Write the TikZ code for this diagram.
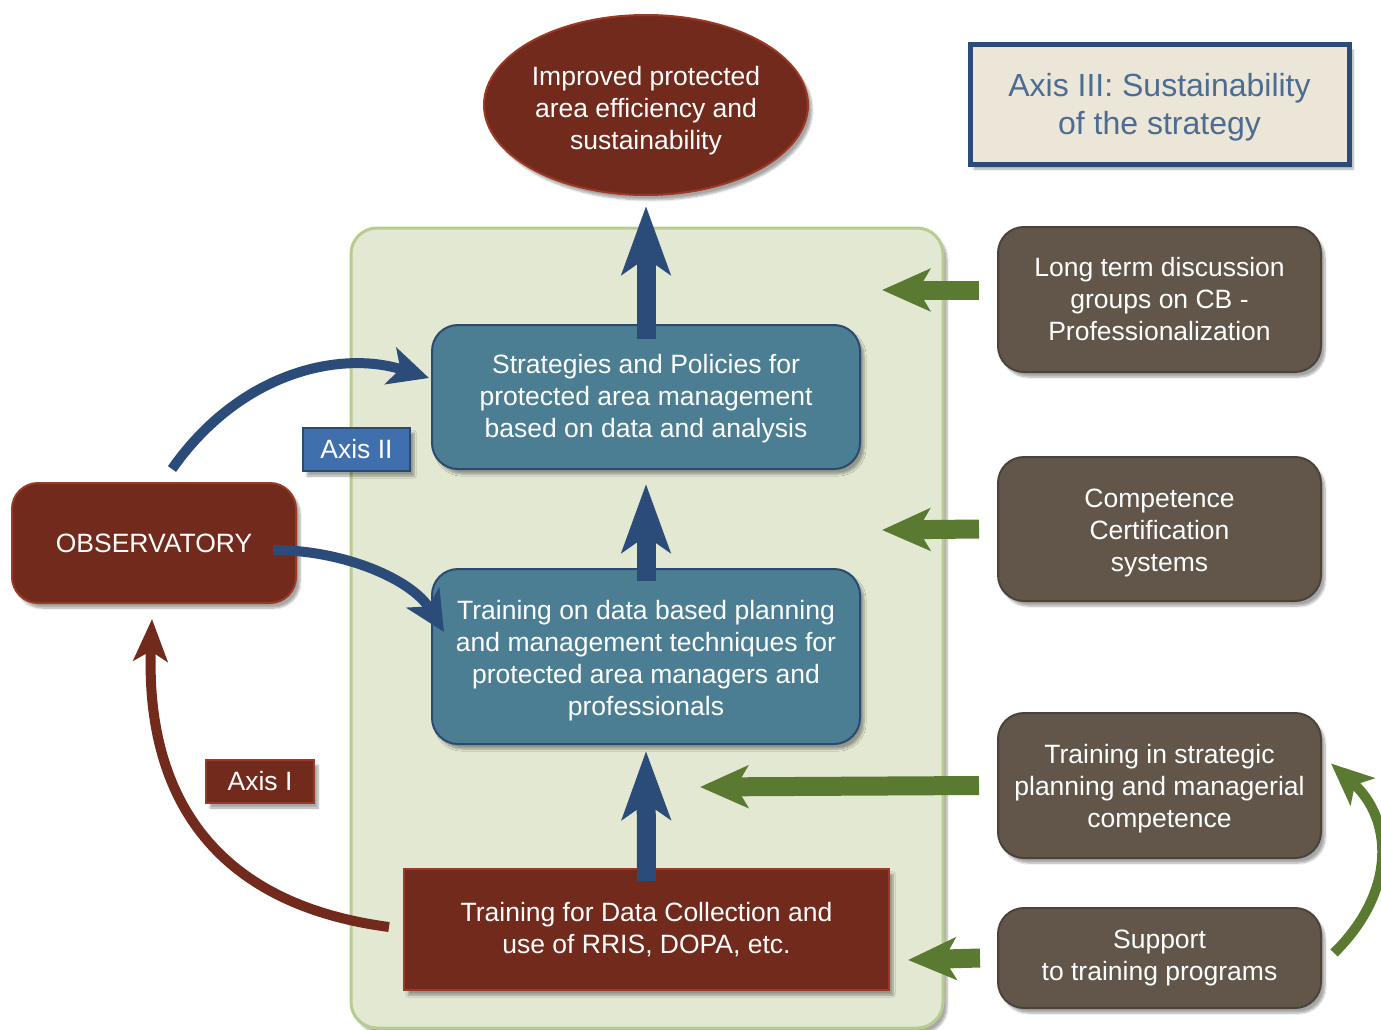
\documentclass[tikz,border=0pt]{standalone}
\usepackage{fontspec}
\setmainfont{Liberation Sans}
\usetikzlibrary{arrows.meta,shapes.geometric,shadows.blur}
\definecolor{bgfill}{HTML}{E3E8D3}
\definecolor{bgdraw}{HTML}{B7CC8F}
\definecolor{dred}{HTML}{722A1C}
\definecolor{dredb}{HTML}{9A3A25}
\definecolor{teal}{HTML}{4C7E93}
\definecolor{tealb}{HTML}{2B4A6E}
\definecolor{taupe}{HTML}{615649}
\definecolor{taupeb}{HTML}{4B433A}
\definecolor{arblue}{HTML}{2B4B78}
\definecolor{argreen}{HTML}{5A7A32}
\definecolor{axtwo}{HTML}{3F6FAD}
\definecolor{axthreefill}{HTML}{EBE6D8}
\definecolor{axthreetext}{HTML}{4C6C91}
\newcommand{\lowtext}[2]{\raisebox{-#1}[\height][\depth]{\begin{tabular}{@{}c@{}}#2\end{tabular}}}
\tikzset{
  shad/.style={blur shadow={shadow xshift=4pt,shadow yshift=-5pt,shadow blur steps=6,shadow opacity=35}},
  txt/.style={font=\fontsize{26.5}{32}\selectfont, text=white, align=center, inner sep=0pt},
  bluebox/.style={txt, shad, rounded corners=26pt, fill=teal, draw=tealb, line width=2pt, minimum width=428pt},
  graybox/.style={txt, shad, rounded corners=26pt, fill=taupe, draw=taupeb, line width=2pt, minimum width=323pt},
  redbox/.style={txt, shad, fill=dred, draw=dredb, line width=2pt},
  bigblue/.style={draw=arblue, line width=19pt, -{Stealth[length=68pt,width=48pt,inset=16pt]}},
  biggreen/.style={draw=argreen, line width=19pt, -{Stealth[length=48pt,width=42pt,inset=12pt]}},
  curveblue/.style={draw=arblue, line width=10pt, -{Stealth[length=40pt,width=38pt,inset=10pt]}},
  curvered/.style={draw=dred, line width=10pt, -{Stealth[length=42pt,width=34pt,inset=10pt]}},
  curvegreen/.style={draw=argreen, line width=10pt, -{Stealth[length=42pt,width=36pt,inset=10pt]}},
}
\begin{document}
\begin{tikzpicture}[x=1pt,y=-1pt]
\useasboundingbox (0,0) rectangle (1381,1030);
% background panel
\node[shad, draw=bgdraw, fill=bgfill, line width=3pt, rounded corners=26pt,
      minimum width=592pt, minimum height=800pt, inner sep=0pt] (bg) at (647,628) {};
% ellipse
\node[txt, shad, ellipse, fill=dred, draw=dredb, line width=2pt,
      minimum width=324pt, minimum height=180pt] (goal) at (646,105)
  {\lowtext{6pt}{Improved protected\\area efficiency and\\sustainability}};
% axis III
\node[shad, fill=axthreefill, draw=arblue, line width=5pt, minimum width=379pt, minimum height=119pt,
      inner sep=0pt, align=center, text=axthreetext, font=\fontsize{32}{38}\selectfont] (ax3) at (1159.5,104.5)
  {\lowtext{3pt}{Axis III: Sustainability\\of the strategy}};
% blue boxes
\node[bluebox, minimum height=144pt] (strat) at (646,397)
  {\lowtext{2pt}{Strategies and Policies for\\protected area management\\based on data and analysis}};
\node[bluebox, minimum height=175pt] (train) at (646,656.5)
  {\lowtext{5pt}{Training on data based planning\\and management techniques for\\protected area managers and\\professionals}};
% red bottom box
\node[redbox, minimum width=485pt, minimum height=121pt] (tdc) at (646.5,929.5)
  {Training for Data Collection and\\use of RRIS, DOPA, etc.};
% observatory
\node[redbox, rounded corners=26pt, minimum width=284pt, minimum height=120pt] (obs) at (154,543)
  {OBSERVATORY};
% axis labels
\node[txt, shad, fill=axtwo, draw=tealb, line width=2pt, minimum width=107pt, minimum height=43pt] (ax2) at (356.5,449.5) {Axis II};
\node[txt, shad, fill=dred, draw=dredb, line width=2pt, minimum width=108pt, minimum height=43pt] (ax1) at (260,781.5) {Axis I};
% gray boxes
\node[graybox, minimum height=145pt] (lt) at (1159.5,299.5)
  {Long term discussion\\groups on CB -\\Professionalization};
\node[graybox, minimum height=144pt] (cc) at (1159.5,529)
  {\lowtext{4pt}{Competence\\Certification\\systems}};
\node[graybox, minimum height=145pt] (ts) at (1159.5,785.5)
  {\lowtext{4pt}{Training in strategic\\planning and managerial\\competence}};
\node[graybox, minimum height=100pt] (sp) at (1159.5,958)
  {Support\\to training programs};
% vertical blue arrows
\draw[bigblue] ([yshift=-15pt]strat.north) -- ([yshift=-10pt]goal.south);
\draw[bigblue] ([yshift=-13pt]train.north) -- ([yshift=-14pt]strat.south);
\draw[bigblue] ([yshift=-13pt]tdc.north) -- ([yshift=-6pt]train.south);
% green arrows
\coordinate (g1) at (882,290);
\coordinate (g2) at (882,530);
\coordinate (g3) at (700,787);
\coordinate (g4) at (908,960);
\draw[biggreen] ([xshift=-18pt,yshift=9.5pt]lt.west) -- (g1);
\draw[biggreen] ([xshift=-18pt]cc.west) -- (g2);
\draw[biggreen] ([xshift=-18pt]ts.west) -- (g3);
\draw[biggreen] ([xshift=-17pt]sp.west) -- (g4);
% curved arrows
\draw[curveblue] ([xshift=18pt,yshift=13pt]obs.north) .. controls (240,372) and (340,350) .. ([xshift=-2pt,yshift=19pt]strat.west);
\draw[curveblue] ([xshift=-24pt,yshift=-7pt]obs.east) .. controls (345,550) and (412,580) .. ([xshift=13pt,yshift=24.5pt]train.west);
\draw[curvered] ([xshift=-14pt,yshift=2.5pt]tdc.west) .. controls (200,902) and (146,780) .. ([xshift=-2pt,yshift=-15pt]obs.south);
\draw[curvegreen] ([xshift=12pt,yshift=5pt]sp.east) .. controls (1398,890) and (1392,818) .. ([xshift=9pt,yshift=22pt]ts.east);
\end{tikzpicture}
\end{document}
